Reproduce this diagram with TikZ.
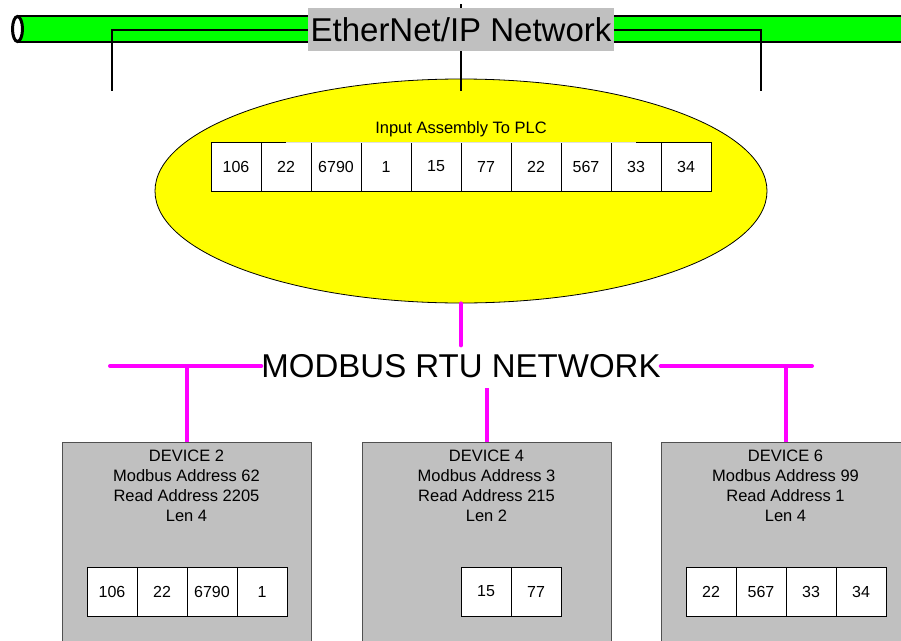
\documentclass[tikz,border=0pt]{standalone}
\usepackage{fontspec}
\setmainfont{Liberation Sans}
\usetikzlibrary{shapes.geometric,positioning}
\definecolor{boxgray}{HTML}{C0C0C0}
\definecolor{edgegray}{HTML}{505050}
\definecolor{pipegreen}{HTML}{00FF00}
\definecolor{plcyellow}{HTML}{FFFF00}
\definecolor{busmagenta}{HTML}{FF00FF}

\begin{document}
\begin{tikzpicture}[x=1pt,y=-1pt,
        cell/.style = {draw, fill=white, line width=0.9pt,
            minimum width=50pt, minimum height=49pt, inner sep=0pt,
            font=\fontsize{16}{19}\selectfont},
        device/.style = {draw=edgegray, fill=boxgray, line width=1pt,
            minimum width=249pt, minimum height=220pt, inner sep=0pt,
            anchor=north},
        devtext/.style = {align=center, inner sep=0pt,
            font=\fontsize{16.5}{20}\selectfont},
        bigtext/.style = {inner sep=0pt, font=\fontsize{33}{38}\selectfont},
        ethline/.style = {line width=2pt},
        bus/.style = {busmagenta, line width=4pt, line cap=round}]

    \useasboundingbox (0,0) rectangle (901,640);
    \clip (0,0) rectangle (901,640);

    % EtherNet/IP pipe
    \fill[pipegreen] (17,16) rectangle (910,42);
    \draw[line width=2.5pt] (17,16) -- (910,16) (17,42) -- (910,42);
    \draw[line width=3pt, fill=white] (17.5,29) ellipse (5pt and 12.5pt);

    % PLC
    \node[ellipse, draw, fill=plcyellow, line width=0.8pt,
        minimum width=612pt, minimum height=224pt] (plc) at (461,191) {};

    % Taps on the pipe
    \coordinate (tapL) at (112,91);
    \coordinate (tapM) at (461,4);
    \coordinate (tapR) at (761,91);
    \draw[ethline] (tapM) -- ([yshift=-12pt]plc.north);
    \node[bigtext, fill=boxgray, minimum width=306pt, minimum height=43pt]
        (eip) at (461,29.5) {EtherNet/IP Network};
    \draw[ethline] (eip.west) -| (tapL);
    \draw[ethline] (eip.east) -| (tapR);

    % Input assembly
    \foreach \v [count=\i] in {106,22,6790,1,15,77,22,567,33,34}
        \node[cell] (in\i) at (186+50*\i,166.5) {\v};
    \node[minimum width=350pt, minimum height=25pt, inner sep=0pt,
        font=\fontsize{16.5}{19}\selectfont, anchor=south]
        (title) at (461,142) {Input Assembly To PLC};
    \draw[black!12, line width=1pt] (title.south west) -- (title.south east);

    % Modbus network
    \node[bigtext] (modbus) at (461,366) {MODBUS RTU NETWORK};
    \coordinate (busL) at (110,366);
    \coordinate (busR) at (812,366);
    \draw[bus] (plc.south) -- ++(0,42);
    \draw[bus] (busL) -- (modbus.west);
    \draw[bus] (modbus.east) -- (busR);

    % Devices
    \node[device] (dev2) at (186.5,442) {};
    \node[device] (dev4) at (486.5,442) {};
    \node[device] (dev6) at (785.5,442) {};
    \draw[bus, line cap=butt] (dev2.north) -- (dev2.north |- busL);
    \draw[bus, line cap=butt] (dev4.north) -- ++(0,-54);
    \draw[bus, line cap=butt] (dev6.north) -- (dev6.north |- busR);

    \node[devtext] (txt2) at (186.5,486)
        {DEVICE 2\\Modbus Address 62\\Read Address 2205\\Len 4};
    \node[devtext] (txt4) at (486.5,486)
        {DEVICE 4\\Modbus Address 3\\Read Address 215\\Len 2};
    \node[devtext] (txt6) at (785.5,486)
        {DEVICE 6\\Modbus Address 99\\Read Address 1\\Len 4};

    \foreach \v [count=\i] in {106,22,6790,1}
        \node[cell] (a\i) at (62+50*\i,591.5) {\v};
    \foreach \v [count=\i] in {15,77}
        \node[cell] (b\i) at (436+50*\i,591.5) {\v};
    \foreach \v [count=\i] in {22,567,33,34}
        \node[cell] (c\i) at (661+50*\i,591.5) {\v};

\end{tikzpicture}
\end{document}
